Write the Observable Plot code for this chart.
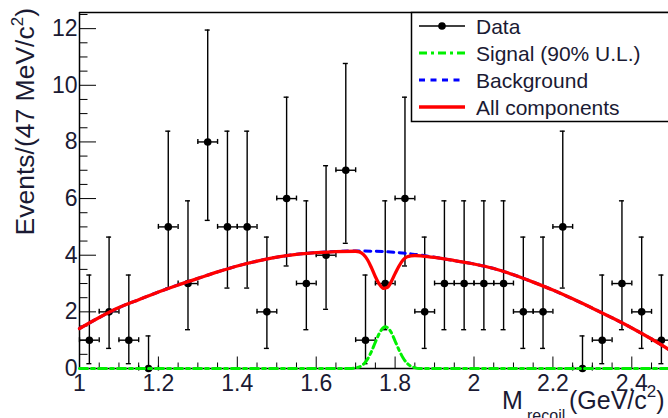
<!DOCTYPE html>
<html><head><meta charset="utf-8">
<script src="https://cdn.jsdelivr.net/npm/d3@7"></script>
<script src="https://cdn.jsdelivr.net/npm/@observablehq/plot@0.6"></script>
<style>
html,body{margin:0;padding:0;background:#fff;overflow:hidden}
#chart svg{display:block}
</style>
</head><body><div id="chart"></div>
<script>
// ---- data ----
const binCenters = [1.025,1.075,1.125,1.175,1.225,1.275,1.325,1.375,1.425,1.475,1.525,1.575,1.625,1.675,1.725,1.775,1.825,1.875,1.925,1.975,2.025,2.075,2.125,2.175,2.225,2.275,2.325,2.375,2.425,2.475];
const counts     = [1,2,1,0,5,3,8,5,5,2,6,3,4,7,1,3,6,2,3,3,3,3,2,2,5,0,1,3,2,1];
const errLow     = [0.17,0.71,0.17,0,2.84,1.37,5.23,2.84,2.84,0.71,3.62,1.37,2.09,4.42,0.17,1.37,3.62,0.71,1.37,1.37,1.37,1.37,0.71,0.71,2.84,0,0.17,1.37,0.71,0.17];
const errHigh    = [3.30,4.64,3.30,1.15,8.38,5.92,11.95,8.38,8.38,4.64,9.58,5.92,7.16,10.77,3.30,5.92,9.58,4.64,5.92,5.92,5.92,5.92,4.64,4.64,8.38,1.15,3.30,5.92,4.64,3.30];
const binHalfWidth = 0.025;

const bkgX = [1.00,1.05,1.10,1.15,1.20,1.25,1.30,1.35,1.40,1.45,1.50,1.55,1.60,1.65,1.70,1.75,1.80,1.85,1.90,1.95,2.00,2.05,2.10,2.15,2.20,2.25,2.30,2.35,2.40,2.45,2.50];
const bkgY = [1.41,1.80,2.15,2.43,2.70,2.95,3.18,3.41,3.62,3.79,3.93,4.03,4.09,4.13,4.15,4.14,4.10,4.03,3.93,3.81,3.69,3.53,3.31,3.05,2.77,2.46,2.13,1.79,1.43,1.04,0.62];

const totalX = [1.00,1.05,1.10,1.15,1.20,1.25,1.30,1.35,1.40,1.45,1.50,1.55,1.60,1.65,1.70,1.71,1.72,1.73,1.74,1.75,1.76,1.77,1.78,1.79,1.80,1.81,1.82,1.83,1.84,1.85,1.87,1.90,1.95,2.00,2.05,2.10,2.15,2.20,2.25,2.30,2.35,2.40,2.45,2.50];
const totalY = [1.41,1.80,2.15,2.43,2.70,2.95,3.18,3.41,3.62,3.79,3.93,4.03,4.09,4.13,4.14,4.11,4.02,3.84,3.56,3.24,2.98,2.83,2.86,3.06,3.35,3.62,3.83,3.94,3.98,3.99,3.97,3.92,3.81,3.69,3.53,3.31,3.05,2.77,2.46,2.13,1.79,1.43,1.04,0.62];

const sigX = [1.00,1.69,1.70,1.71,1.72,1.73,1.74,1.75,1.76,1.77,1.775,1.78,1.79,1.80,1.81,1.82,1.83,1.84,1.85,1.86,2.50];
const sigY = [0,0,0.02,0.06,0.15,0.33,0.60,0.93,1.24,1.44,1.47,1.45,1.28,0.97,0.65,0.38,0.19,0.08,0.03,0,0];

const xMajorTicks = [1,1.2,1.4,1.6,1.8,2,2.2,2.4];
const xMinorTicks = [1.05,1.1,1.15,1.25,1.3,1.35,1.45,1.5,1.55,1.65,1.7,1.75,1.85,1.9,1.95,2.05,2.1,2.15,2.25,2.3,2.35,2.45];
const yMajorTicks = [0,2,4,6,8,10,12];
const yMinorTicks = [0.5,1,1.5,2.5,3,3.5,4.5,5,5.5,6.5,7,7.5,8.5,9,9.5,10.5,11,11.5,12.5];

const legendLabels = ["Data","Signal (90% U.L.)","Background","All components"];
const yTitle = "Events/(47 MeV/c";
const xTitleMain = "M", xTitleSub = "recoil", xTitleUnit = "(GeV/c";

// ---- layout / style ----
const W = 668, H = 418;
const xDomain = [1, 2.493], yDomain = [0, 12.57];
const textColor = "#1a1a33";
const font = "'Liberation Sans', Arial, Helvetica, sans-serif";
const green = "#00f000", blue = "#0000ff", red = "#ff0000";
const sigDash = "8,4,3,4", bkgDash = "6,5.5";

const points = binCenters.map((x, i) => ({x, n: counts[i], lo: errLow[i], hi: errHigh[i], x1: x - binHalfWidth, x2: x + binHalfWidth}));
const bkg = bkgX.map((x, i) => ({x, y: bkgY[i]}));
const total = totalX.map((x, i) => ({x, y: totalY[i]}));
const sig = sigX.map((x, i) => ({x, y: sigY[i]}));

const plot = Plot.plot({
  width: W, height: H,
  marginLeft: 79, marginRight: 0, marginTop: 12, marginBottom: 50,
  x: {domain: xDomain},
  y: {domain: yDomain},
  style: {fontFamily: font, fontSize: "23px", color: textColor, background: "white", overflow: "hidden"},
  marks: [
    // frame lines
    Plot.ruleX([xDomain[0]], {stroke: "#000", strokeWidth: 1.5}),
    Plot.ruleY([yDomain[0]], {stroke: "#000", strokeWidth: 1.5}),
    Plot.ruleY([yDomain[1]], {stroke: "#000", strokeWidth: 1.5}),
    // inward ticks
    Plot.ruleX(xMajorTicks, {x: d => d, y1: 0, y2: 0, insetTop: -11.5, stroke: "#000", strokeWidth: 1}),
    Plot.ruleX(xMinorTicks, {x: d => d, y1: 0, y2: 0, insetTop: -5.5, stroke: "#000", strokeWidth: 1}),
    Plot.ruleY(yMajorTicks, {y: d => d, x1: xDomain[0], x2: xDomain[0], insetRight: -17, stroke: "#000", strokeWidth: 1}),
    Plot.ruleY(yMinorTicks, {y: d => d, x1: xDomain[0], x2: xDomain[0], insetRight: -8.5, stroke: "#000", strokeWidth: 1}),
    // data error bars
    Plot.ruleX(points, {x: "x", y1: "lo", y2: "hi", stroke: "#000", strokeWidth: 1.4}),
    Plot.ruleY(points, {y: "n", x1: "x1", x2: "x2", stroke: "#000", strokeWidth: 1.4}),
    Plot.ruleY(points, {y: "hi", x1: "x", x2: "x", insetLeft: -2.5, insetRight: -2.5, stroke: "#000", strokeWidth: 1.4}),
    Plot.ruleY(points.filter(d => d.lo > 0), {y: "lo", x1: "x", x2: "x", insetLeft: -2.5, insetRight: -2.5, stroke: "#000", strokeWidth: 1.4}),
    Plot.ruleX(points, {x: "x1", y1: "n", y2: "n", insetTop: -2.5, insetBottom: -2.5, stroke: "#000", strokeWidth: 1.4}),
    Plot.ruleX(points, {x: "x2", y1: "n", y2: "n", insetTop: -2.5, insetBottom: -2.5, stroke: "#000", strokeWidth: 1.4}),
    Plot.dot(points, {x: "x", y: "n", r: 3.8, fill: "#000"}),
    // curves
    Plot.line(sig, {x: "x", y: "y", stroke: green, strokeWidth: 3, strokeDasharray: sigDash, curve: "monotone-x"}),
    Plot.line(bkg, {x: "x", y: "y", stroke: blue, strokeWidth: 3, strokeDasharray: bkgDash, curve: "monotone-x"}),
    Plot.line(total, {x: "x", y: "y", stroke: red, strokeWidth: 3.3, curve: "monotone-x"}),
    // tick labels
    Plot.axisX(xMajorTicks, {tickSize: 0, tickPadding: 6, fontSize: 23, label: null, tickFormat: d => String(d), color: textColor}),
    Plot.axisY(yMajorTicks, {tickSize: 0, tickPadding: 2, fontSize: 23, label: null, tickFormat: d => String(d), color: textColor})
  ]
});

document.getElementById("chart").appendChild(plot);
const svg = d3.select(plot);

// y-axis title
const yt = svg.append("text")
  .attr("transform", "translate(34,8) rotate(-90)")
  .attr("text-anchor", "end").attr("fill", textColor)
  .attr("font-family", font).attr("font-size", 26.5);
yt.append("tspan").text(yTitle);
yt.append("tspan").attr("font-size", 17).attr("dy", -11).text("2");
yt.append("tspan").attr("dy", 11).text(")");

// x-axis title
const xt = svg.append("text").attr("fill", textColor).attr("text-anchor", "start")
  .attr("font-family", font).attr("font-size", 25);
xt.append("tspan").attr("x", 502).attr("y", 408.5).text(xTitleMain);
xt.append("tspan").attr("x", 527).attr("y", 420.5).attr("font-size", 16).text(xTitleSub);
xt.append("tspan").attr("x", 569).attr("y", 408.5).text(xTitleUnit);
xt.append("tspan").attr("y", 396.5).attr("font-size", 17).text("2");
xt.append("tspan").attr("y", 408.5).text(")");

// legend
const lg = svg.append("g");
lg.append("rect").attr("x", 411.5).attr("y", 12.5).attr("width", 300).attr("height", 109)
  .attr("fill", "#fff").attr("stroke", "#000").attr("stroke-width", 1.5);
const rowY = [26, 53, 80, 107];
const sx1 = 419, sx2 = 465;
lg.append("line").attr("x1", sx1).attr("x2", sx2).attr("y1", rowY[0]).attr("y2", rowY[0]).attr("stroke", "#000").attr("stroke-width", 1.4);
lg.append("circle").attr("cx", (sx1 + sx2) / 2).attr("cy", rowY[0]).attr("r", 3.8).attr("fill", "#000");
lg.append("line").attr("x1", sx1).attr("x2", sx2).attr("y1", rowY[1]).attr("y2", rowY[1]).attr("stroke", green).attr("stroke-width", 3).attr("stroke-dasharray", sigDash);
lg.append("line").attr("x1", sx1).attr("x2", sx2).attr("y1", rowY[2]).attr("y2", rowY[2]).attr("stroke", blue).attr("stroke-width", 3).attr("stroke-dasharray", bkgDash);
lg.append("line").attr("x1", sx1).attr("x2", sx2).attr("y1", rowY[3]).attr("y2", rowY[3]).attr("stroke", red).attr("stroke-width", 3.3);
legendLabels.forEach((t, i) => {
  lg.append("text").attr("x", 476).attr("y", rowY[i]).attr("dy", "0.36em").attr("text-anchor", "start")
    .attr("fill", textColor).attr("font-family", font).attr("font-size", 21).text(t);
});
</script>
</body></html>
